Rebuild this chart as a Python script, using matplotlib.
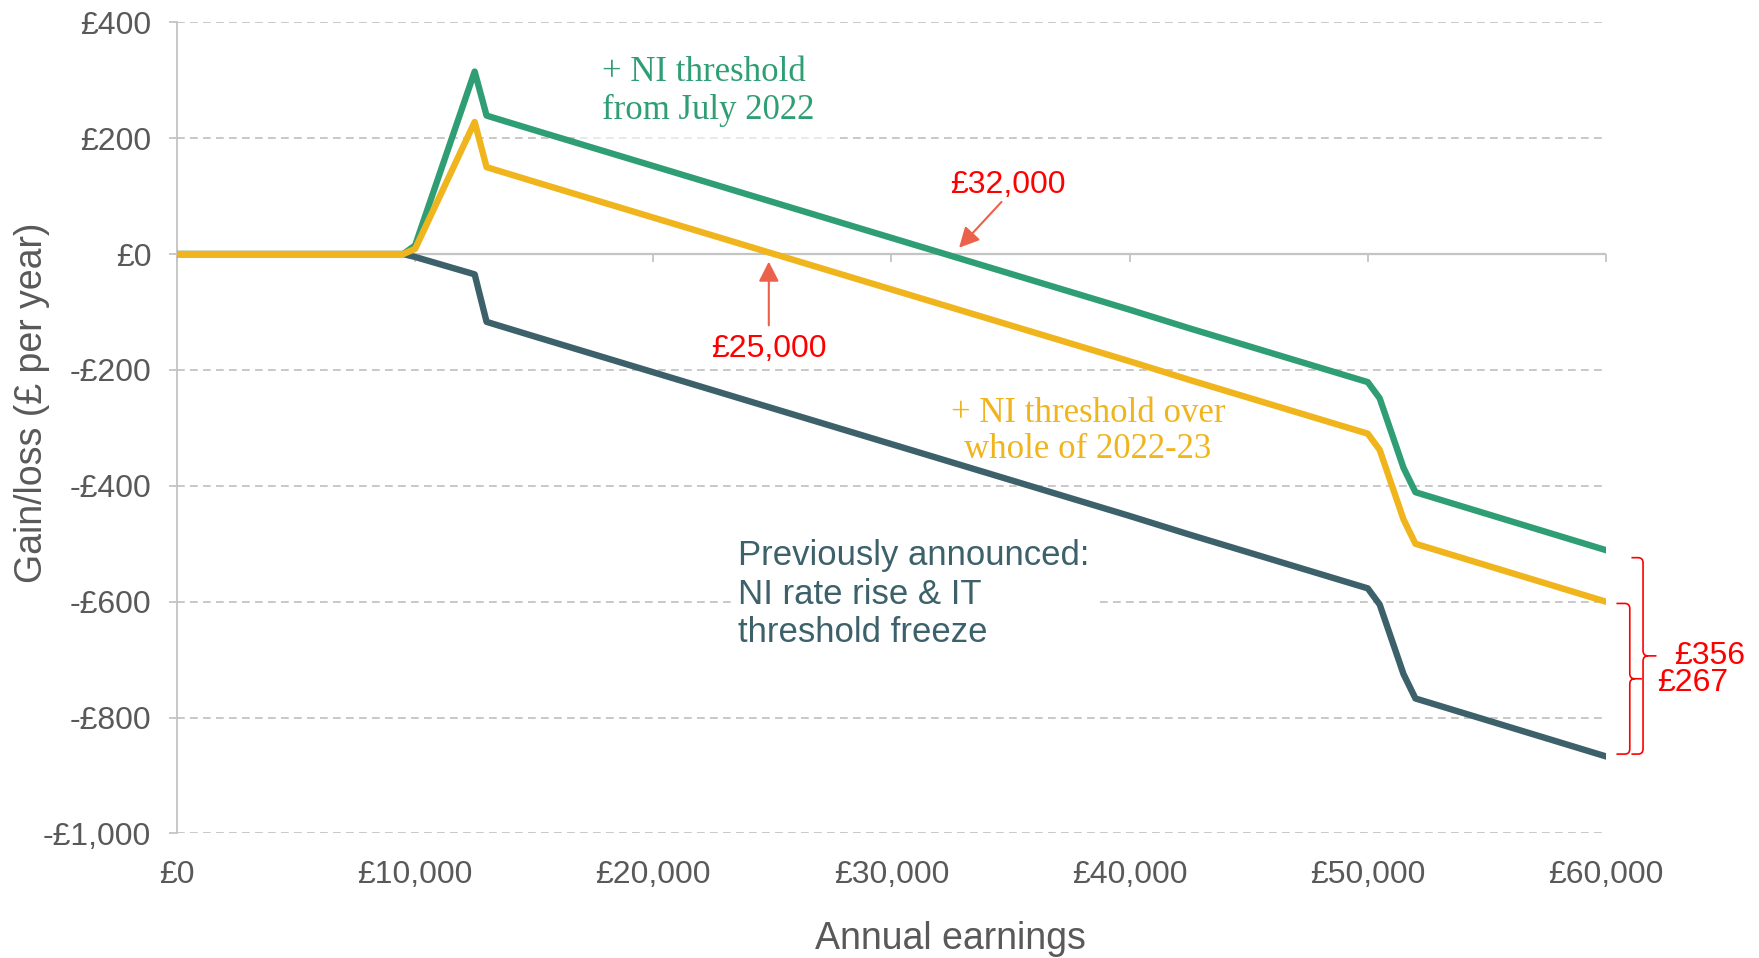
import matplotlib
matplotlib.use("Agg")
import matplotlib.pyplot as plt
from matplotlib.path import Path
from matplotlib.patches import PathPatch
from matplotlib.ticker import FuncFormatter

# ---------------- data ----------------
earnings = [0, 9500, 10000, 12500, 13000, 15000, 17500, 20000, 22500, 25000,
            27500, 30000, 32500, 35000, 37500, 40000, 42500, 45000, 47500,
            50000, 50500, 51000, 51500, 52000, 54000, 56000, 58000, 60000]

previously_announced = [0, 0, -5, -35, -117, -142, -173, -204, -235, -266,
                        -297, -328, -359, -390, -421, -452, -484, -515, -546,
                        -577, -605, -665, -725, -767, -792, -817, -842, -867]

ni_july_2022 = [0, 0, 15, 315, 239, 214, 183, 152, 121, 90,
                59, 28, -3, -34, -65, -96, -128, -159, -190,
                -221, -249, -309, -369, -411, -436, -461, -486, -511]

ni_whole_year = [0, 0, 9, 228, 150, 125, 94, 63, 32, 1,
                 -30, -61, -92, -123, -154, -185, -217, -248, -279,
                 -310, -338, -398, -458, -500, -525, -550, -575, -600]

x_ticks = [0, 10000, 20000, 30000, 40000, 50000, 60000]
y_ticks = [-1000, -800, -600, -400, -200, 0, 200, 400]

# ---------------- style ----------------
SANS = "Liberation Sans"
SERIF = "Liberation Serif"
GREY_TXT = "#595959"
GRID = "#C4C4C4"
C_GREEN = "#2F9E74"
C_YELLOW = "#F0B41C"
C_DARK = "#3D616A"
RED = "#FF0000"
ARROW = "#EC6149"

plt.rcParams["font.family"] = [SANS, "DejaVu Sans"]

fig = plt.figure(figsize=(17.59, 9.58), dpi=100)
ax = fig.add_axes([0.1006, 0.130, 0.8124, 0.8467])

ymin, ymax = -1000, 400
ax.set_xlim(0, 60000)
ax.set_ylim(ymin, ymax)

# grid lines (dashed), skipping zero
for yv in y_ticks:
    if yv != 0:
        ax.axhline(yv, color=GRID, lw=1.3, ls=(0, (4.3, 2.9)), zorder=0)
ax.axhline(0, color=GRID, lw=1.6, zorder=1)

# spines
for s in ["top", "right", "bottom"]:
    ax.spines[s].set_visible(False)
ax.spines["left"].set_color(GRID)
ax.spines["left"].set_linewidth(1.3)

money = FuncFormatter(lambda v, p: ("-£{:,.0f}".format(-v) if v < 0 else "£{:,.0f}".format(v)))
ax.set_yticks(y_ticks)
ax.yaxis.set_major_formatter(money)
ax.tick_params(axis="y", length=6, width=1.3, color=GRID, pad=12.5,
               labelsize=23, labelcolor=GREY_TXT)

ax.set_xticks(x_ticks)
ax.xaxis.set_major_formatter(money)
ax.tick_params(axis="x", length=0, pad=19, labelsize=23, labelcolor=GREY_TXT)

# secondary axis at y = 0 carrying the small tick marks
loc0 = (0 - ymin) / (ymax - ymin)
sec = ax.secondary_xaxis(loc0)
sec.set_xticks(x_ticks)
sec.tick_params(axis="x", direction="out", length=6, width=1.3, color=GRID,
                labelbottom=False, labeltop=False, bottom=True, top=False)
sec.spines["bottom"].set_visible(False)
sec.spines["top"].set_visible(False)

# lines
lw = 4.6
ax.plot(earnings, previously_announced, color=C_DARK, lw=lw, zorder=3)
ax.plot(earnings, ni_july_2022, color=C_GREEN, lw=lw, zorder=4)
ax.plot(earnings, ni_whole_year, color=C_YELLOW, lw=lw, zorder=5)

# axis labels
ax.set_xlabel("Annual earnings", fontsize=27, color=GREY_TXT)
ax.xaxis.set_label_coords(0.541, -0.108)
ax.set_ylabel("Gain/loss (£ per year)", fontsize=27, color=GREY_TXT)
ax.yaxis.set_label_coords(-0.089, 0.531)

# series labels
ax.text(17840, 280, "+ NI threshold\nfrom July 2022", family=SERIF, fontsize=25,
        color=C_GREEN, ha="left", va="center", linespacing=1.19, zorder=2,
        bbox=dict(boxstyle="square,pad=0.7", fc="white", ec="none", alpha=0.6))
ax.text(38250, -306, "+ NI threshold over\nwhole of 2022-23", family=SERIF, fontsize=25,
        color=C_YELLOW, ha="center", va="center", multialignment="center",
        linespacing=1.12, zorder=6)
ax.text(23550, -587, "Previously announced:\nNI rate rise & IT\nthreshold freeze",
        fontsize=25, color=C_DARK, ha="left", va="center", linespacing=1.22, zorder=2,
        bbox=dict(boxstyle="square,pad=0.2", fc="white", ec="none"))

# red annotations with arrows
arrow_kw = dict(arrowstyle="-|>,head_length=0.55,head_width=0.28", color=ARROW,
                lw=1.5, mutation_scale=22, shrinkA=0, shrinkB=0)
ax.text(34900, 120, "£32,000", fontsize=23, color=RED, ha="center", va="center", zorder=7)
ax.annotate("", xy=(32840, 11), xytext=(34620, 90), arrowprops=arrow_kw, zorder=7)
ax.text(24850, -164, "£25,000", fontsize=23, color=RED, ha="center", va="center", zorder=7)
ax.annotate("", xy=(24850, -13), xytext=(24850, -123), arrowprops=arrow_kw, zorder=7)


def brace(x0, xv, xtip, ytop, ybot, cx=210, dy=9):
    ymid = (ytop + ybot) / 2
    verts = [(x0, ytop), (xv - cx, ytop), (xv, ytop), (xv, ytop - dy),
             (xv, ymid + dy), (xv, ymid), (xv + cx, ymid), (xtip, ymid),
             (xv + cx, ymid), (xv, ymid), (xv, ymid - dy),
             (xv, ybot + dy), (xv, ybot), (xv - cx, ybot), (x0, ybot)]
    codes = [Path.MOVETO, Path.LINETO, Path.CURVE3, Path.CURVE3,
             Path.LINETO, Path.CURVE3, Path.CURVE3, Path.LINETO,
             Path.MOVETO, Path.CURVE3, Path.CURVE3,
             Path.LINETO, Path.CURVE3, Path.CURVE3, Path.LINETO]
    p = PathPatch(Path(verts, codes), fc="none", ec=RED, lw=1.2, clip_on=False, zorder=7)
    ax.add_patch(p)
    return ymid


end_dark = previously_announced[-1]
m1 = brace(61070, 61557, 62120, ni_july_2022[-1] - 13, end_dark + 4)
m2 = brace(60440, 61000, 61510, ni_whole_year[-1] - 3, end_dark + 4)
ax.text(62850, m1, "£356", fontsize=23, color=RED, ha="left", va="center", clip_on=False)
ax.text(62150, m2 - 8, "£267", fontsize=23, color=RED, ha="left", va="center", clip_on=False)

fig.savefig("out.png", dpi=100, facecolor="white")
